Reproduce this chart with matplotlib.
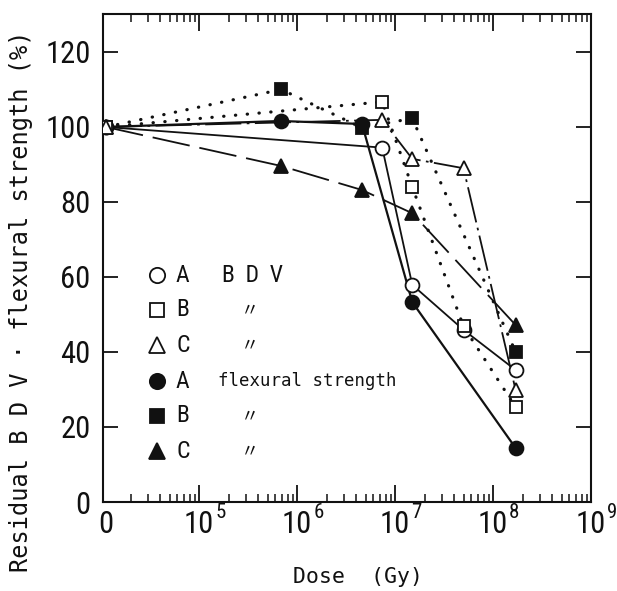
import matplotlib
matplotlib.use("Agg")
import matplotlib.pyplot as plt
import matplotlib.font_manager as fm
from matplotlib.transforms import blended_transform_factory
from matplotlib.ticker import FixedLocator, LogLocator, NullFormatter

# ---------------- data ----------------
X0 = 10 ** 4.05  # position used for dose "0" on the log axis

dose_A_bdv = [0, 7.4e6, 1.5e7, 5.0e7, 1.7e8]
val_A_bdv = [100, 94.5, 57.9, 45.9, 35.2]

dose_B_bdv = [0, 7.4e6, 1.5e7, 5.0e7, 1.7e8]
val_B_bdv = [100, 106.7, 84.0, 46.8, 25.3]

dose_C_bdv = [0, 7.4e6, 1.5e7, 5.0e7, 1.7e8]
val_C_bdv = [100, 101.9, 91.5, 89.0, 29.9]

dose_A_fs = [0, 6.9e5, 4.6e6, 1.5e7, 1.7e8]
val_A_fs = [100, 101.6, 100.8, 53.3, 14.4]

dose_B_fs = [0, 6.9e5, 4.6e6, 1.5e7, 1.7e8]
val_B_fs = [100, 110.0, 99.8, 102.3, 40.0]

dose_C_fs = [0, 6.9e5, 4.6e6, 1.5e7, 1.7e8]
val_C_fs = [100, 89.6, 83.2, 77.0, 47.2]

y_ticks = [0, 20, 40, 60, 80, 100, 120]
x_exponents = [5, 6, 7, 8, 9]

legend_letters = ["A", "B", "C", "A", "B", "C"]
legend_texts = ["B  D  V", "〃", "〃", "flexural strength", "〃", "〃"]

# ---------------- fonts ----------------
def find_narrow():
    names_pref = ["Liberation Sans Narrow", "Roboto Condensed", "DejaVu Sans Condensed",
                  "Open Sans Condensed", "Noto Sans Condensed"]
    fl = fm.fontManager.ttflist
    for n in names_pref:
        for f in fl:
            if f.name == n and f.style == "normal" and f.weight in (400, "normal", "regular"):
                return fm.FontProperties(fname=f.fname), True
    for stretch in ("condensed", "semi-condensed"):
        for n in ["DejaVu Sans", "Noto Sans", "Roboto", "Open Sans", "Liberation Sans"]:
            for f in fl:
                if (f.name == n and str(f.stretch) == stretch and f.style == "normal"
                        and f.weight in (400, "normal", "regular")):
                    return fm.FontProperties(fname=f.fname), True
    return fm.FontProperties(family="DejaVu Sans"), False

NARROW_FP, HAVE_NARROW = find_narrow()

def narrow(size):
    fp = NARROW_FP.copy()
    fp.set_size(size)
    return fp

TICK_SIZE = 22 if HAVE_NARROW else 16.5
EXP_SIZE = 15 if HAVE_NARROW else 12
MONO = ["DejaVu Sans Mono"]
INK = "#111111"

def dz(d):
    return [X0 if v == 0 else v for v in d]

fig = plt.figure(figsize=(6.17, 5.91), dpi=100)
ax = fig.add_axes([103 / 617, 1 - 502 / 591, 488 / 617, 488 / 591])
ax.set_xscale("log")
ax.set_xlim(10 ** 4.02, 1e9)
ax.set_ylim(0, 130.13)

for s in ax.spines.values():
    s.set_linewidth(1.5)
    s.set_color(INK)

lw = 1.3
dot_kw = dict(linestyle=(0, (0.1, 3.6)), linewidth=2.3, dash_capstyle="round")
series = [
    (dose_A_bdv, val_A_bdv, "o", False, dict(linestyle="-", linewidth=lw)),
    (dose_B_bdv, val_B_bdv, "s", False, dot_kw),
    (dose_C_bdv, val_C_bdv, "^", False, dict(linestyle=(0, (20, 3, 1.5, 3)), linewidth=lw)),
    (dose_A_fs, val_A_fs, "o", True, dict(linestyle="-", linewidth=1.6)),
    (dose_B_fs, val_B_fs, "s", True, dot_kw),
    (dose_C_fs, val_C_fs, "^", True, dict(linestyle=(0, (21, 5.5)), linewidth=lw)),
]
for d, v, m, filled, lkw in series:
    ax.plot(dz(d), v, color=INK, zorder=2, **lkw)
for d, v, m, filled, lkw in series:
    ms = 10 if m != "s" else 9
    ax.plot(dz(d), v, linestyle="none", marker=m, markersize=ms,
            markerfacecolor=INK if filled else "white", markeredgecolor=INK,
            markeredgewidth=1.3, zorder=4 if not filled else 3)

# ticks
ax.xaxis.set_major_locator(FixedLocator([10.0 ** e for e in x_exponents]))
ax.xaxis.set_minor_locator(LogLocator(base=10, subs=[2, 3, 4, 5, 6, 7, 8, 9], numticks=20))
ax.xaxis.set_major_formatter(NullFormatter())
ax.xaxis.set_minor_formatter(NullFormatter())
ax.set_yticks(y_ticks)
ax.set_yticklabels([str(t) for t in y_ticks], fontproperties=narrow(TICK_SIZE))
ax.tick_params(axis="x", which="major", direction="in", top=True, bottom=True,
               length=12, width=1.3, color=INK)
ax.tick_params(axis="x", which="minor", direction="in", top=True, bottom=True,
               length=6, width=1.1, color=INK)
ax.tick_params(axis="y", which="major", direction="in", left=True, right=True,
               length=11, width=1.3, color=INK, pad=9, labelcolor=INK)

# x tick labels (manual, "10" centred on tick, exponent superscript)
trans = blended_transform_factory(ax.transData, ax.transAxes)
ax.text(X0, -0.016, "0", transform=trans, ha="center", va="top",
        fontproperties=narrow(TICK_SIZE), color=INK)
base_texts = []
for e in x_exponents:
    t = ax.text(10.0 ** e, -0.016, "10", transform=trans, ha="center", va="top",
                fontproperties=narrow(TICK_SIZE), color=INK)
    base_texts.append((e, t))
fig.canvas.draw()
renderer = fig.canvas.get_renderer()
for e, t in base_texts:
    bb = t.get_window_extent(renderer)
    x_disp = bb.x1 + 1.0
    ax_x = ax.transAxes.inverted().transform((x_disp, 0))[0]
    ax.text(ax_x, -0.002, str(e), transform=ax.transAxes, ha="left", va="top",
            fontproperties=narrow(EXP_SIZE), color=INK, clip_on=False)

# axis labels
fig.text(358 / 617, 1 - 577 / 591, "Dose  (Gy)", ha="center", va="center",
         fontsize=15.5, family=MONO, color=INK)
fig.text(21 / 617, 1 - 301 / 591, "Residual B D V · flexural strength (%)",
         rotation=90, ha="center", va="center", fontsize=17, family=MONO, color=INK)

# manual legend inside the axes
def ax_xy(px, py):
    return ((px - 103) / 488, (502 - py) / 488)

legend_markers = [("o", False), ("s", False), ("^", False), ("o", True), ("s", True), ("^", True)]
rows_py = [275, 310, 345, 381, 416, 451]
for (m, filled), let, txt, py in zip(legend_markers, legend_letters, legend_texts, rows_py):
    mx, my = ax_xy(157, py)
    ax.plot([mx], [my], transform=ax.transAxes, marker=m, markersize=11 if m != "s" else 10,
            markerfacecolor=INK if filled else "white", markeredgecolor=INK,
            markeredgewidth=1.3, linestyle="none", zorder=5)
    lx, ly = ax_xy(176, py)
    ax.text(lx, ly, let, transform=ax.transAxes, ha="left", va="center",
            fontproperties=narrow(17 if HAVE_NARROW else 14.5), color=INK)
    if txt == "〃":
        tx, ty = ax_xy(241, py)
        ax.text(tx, ty, txt, transform=ax.transAxes, ha="left", va="center",
                fontsize=13, family=["Noto Sans CJK JP", "DejaVu Sans"], color=INK)
    elif txt.startswith("B"):
        tx, ty = ax_xy(222, py)
        ax.text(tx, ty, txt, transform=ax.transAxes, ha="left", va="center",
                fontproperties=narrow(17 if HAVE_NARROW else 14.5), color=INK)
    else:
        tx, ty = ax_xy(218, py)
        ax.text(tx, ty, txt, transform=ax.transAxes, ha="left", va="center",
                fontsize=12.5, family=MONO, color=INK)

fig.savefig("out.png", dpi=100, facecolor="white")
